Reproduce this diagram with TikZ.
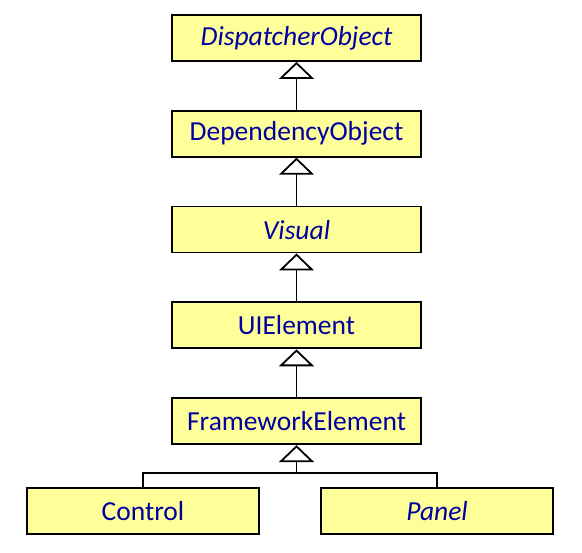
\documentclass[tikz,border=0pt]{standalone}
\usepackage{fontspec}
\setmainfont{Carlito}
\usetikzlibrary{positioning, arrows.meta}
\definecolor{classfill}{HTML}{FFFF99}
\definecolor{classtext}{HTML}{0000A0}

\begin{document}
\begin{tikzpicture}[x=1pt, y=1pt, node distance=48pt and 62pt]

\tikzset{
  cls/.style={
    rectangle, draw=black, line width=1.8pt, fill=classfill,
    text=classtext, align=center,
    minimum height=46pt, minimum width=249pt,
    inner sep=2pt, font=\fontsize{27.5}{30}\selectfont
  },
  abstract/.style={cls, font=\fontsize{27.5}{30}\selectfont\itshape},
  inherit/.style={-{Triangle[width=35pt, length=17pt, fill=white]}, line width=1.8pt},
  link/.style={line width=1.8pt}
}

\useasboundingbox (0,0) rectangle (582,-553);

% ==========================
% Class chain
% ==========================
\node[abstract] (disp) at (296.5,-38) {DispatcherObject};
\node[cls, below=of disp] (dep) {DependencyObject};
\node[abstract, below=of dep] (visual) {Visual};
\node[cls, below=of visual] (uie) {UIElement};
\node[cls, below=of uie] (fe) {FrameworkElement};

\draw[inherit] (dep) -- (disp);
\draw[inherit] (visual) -- (dep);
\draw[inherit] (uie) -- (visual);
\draw[inherit] (fe) -- (uie);

% ==========================
% Leaf classes
% ==========================
\node[cls, minimum width=232pt] (ctrl) at (143,-511) {Control};
\node[abstract, minimum width=232pt] (panel) at (437,-511) {Panel};

\coordinate (join) at (296.5,-473);
\draw[link] (ctrl.north) |- (join) -| (panel.north);
\draw[inherit] (join) -- (fe);

\end{tikzpicture}
\end{document}
